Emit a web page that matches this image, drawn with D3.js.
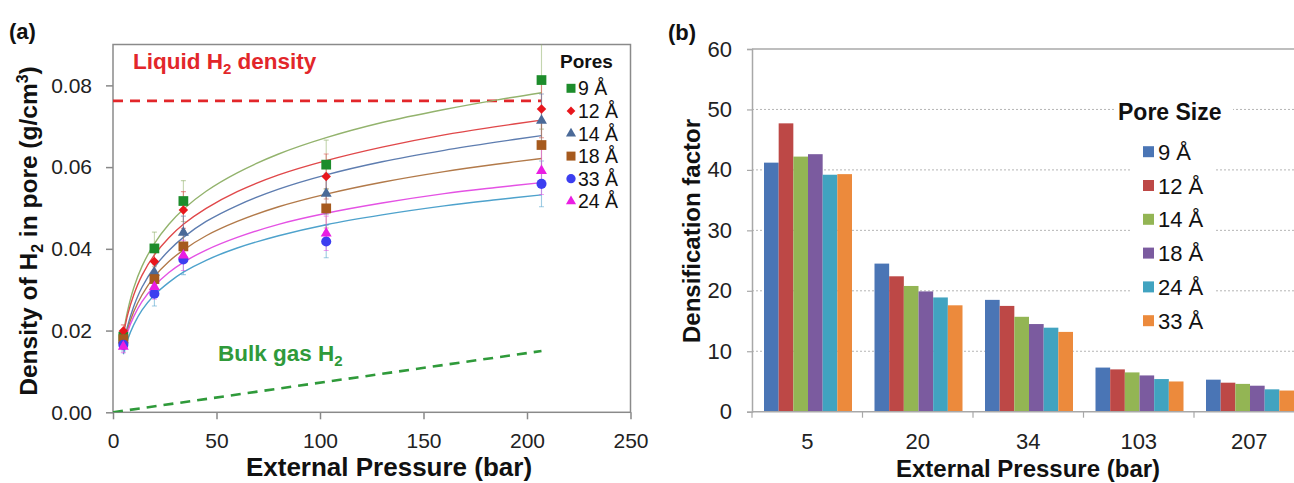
<!DOCTYPE html>
<html><head><meta charset="utf-8">
<script src="https://cdn.jsdelivr.net/npm/d3@7"></script>
<style>
body{margin:0;background:#fff}
svg{display:block}
text{font-family:"Liberation Sans",Arial,Helvetica,sans-serif}
</style>
</head><body>
<svg id="c" width="1294" height="483"></svg>
<script>
// ---------- Panel (a) data ----------
const pressures = [5, 20, 34, 103, 207];
const poreNamesA = ["9 Å", "12 Å", "14 Å", "18 Å", "33 Å", "24 Å"];
const dens9  = [0.0185, 0.0401, 0.0517, 0.0606, 0.0813];
const dens12 = [0.0199, 0.0369, 0.0495, 0.0577, 0.0742];
const dens14 = [0.0177, 0.0342, 0.0440, 0.0535, 0.0714];
const dens18 = [0.0179, 0.0326, 0.0406, 0.0499, 0.0654];
const dens33 = [0.0165, 0.0290, 0.0374, 0.0418, 0.0559];
const dens24 = [0.0161, 0.0307, 0.0384, 0.0438, 0.0591];
const err9  = [0.0015, 0.0040, 0.0050, 0.0060, 0.0120];
const err12 = [0.0015, 0.0035, 0.0045, 0.0055, 0.0070];
const err14 = [0.0015, 0.0032, 0.0040, 0.0050, 0.0065];
const err18 = [0.0015, 0.0030, 0.0038, 0.0048, 0.0060];
const err33 = [0.0015, 0.0030, 0.0037, 0.0040, 0.0056];
const err24 = [0.0015, 0.0030, 0.0037, 0.0042, 0.0058];
// fitted trend curves
const fitX   = [5, 7, 10, 14, 20, 27, 34, 45, 60, 80, 103, 130, 160, 185, 207];
const fit9   = [0.0194,0.0247,0.0304,0.0357,0.0413,0.0460,0.0497,0.0541,0.0586,0.0632,0.0672,0.0709,0.0741,0.0764,0.0782];
const fit12  = [0.0189,0.0237,0.0287,0.0335,0.0385,0.0427,0.0460,0.0499,0.0540,0.0581,0.0616,0.0649,0.0679,0.0699,0.0715];
const fit14  = [0.0164,0.0210,0.0259,0.0306,0.0355,0.0396,0.0428,0.0467,0.0506,0.0546,0.0581,0.0613,0.0641,0.0661,0.0677];
const fit18  = [0.0160,0.0202,0.0246,0.0287,0.0332,0.0369,0.0397,0.0432,0.0467,0.0503,0.0534,0.0563,0.0589,0.0607,0.0621];
const fit33  = [0.0142,0.0177,0.0214,0.0250,0.0287,0.0318,0.0343,0.0372,0.0402,0.0432,0.0459,0.0483,0.0505,0.0520,0.0532];
const fit24  = [0.0159,0.0196,0.0234,0.0271,0.0309,0.0342,0.0367,0.0397,0.0428,0.0460,0.0487,0.0512,0.0535,0.0550,0.0562];
const liquidDensity = 0.0762;
const bulkGasX = [0, 207];
const bulkGasY = [0, 0.0150];
const xTicksA = [0, 50, 100, 150, 200, 250];
const yTicksA = [0, 0.02, 0.04, 0.06, 0.08];

// ---------- Panel (b) data ----------
const barCategories = ["5", "20", "34", "103", "207"];
const poreNamesB = ["9 Å", "12 Å", "14 Å", "18 Å", "24 Å", "33 Å"];
const fac9  = [41.2, 24.5, 18.5, 7.3, 5.3];
const fac12 = [47.7, 22.4, 17.5, 7.0, 4.8];
const fac14 = [42.2, 20.8, 15.7, 6.5, 4.6];
const fac18 = [42.6, 19.9, 14.5, 6.0, 4.3];
const fac24 = [39.2, 18.9, 13.9, 5.4, 3.7];
const fac33 = [39.3, 17.6, 13.2, 5.0, 3.5];
const yTicksB = [0, 10, 20, 30, 40, 50, 60];

// ---------- styles ----------
const seriesA = [
  {name: poreNamesA[0], v: dens9,  e: err9,  fit: fit9,  mk: "#1d8c2b", line: "#93b36d", shape: "square"},
  {name: poreNamesA[1], v: dens12, e: err12, fit: fit12, mk: "#e8161c", line: "#e0484a", shape: "diamond"},
  {name: poreNamesA[2], v: dens14, e: err14, fit: fit14, mk: "#4b6a98", line: "#5e7db0", shape: "triangle"},
  {name: poreNamesA[3], v: dens18, e: err18, fit: fit18, mk: "#a65a1e", line: "#b27a4a", shape: "square"},
  {name: poreNamesA[4], v: dens33, e: err33, fit: fit33, mk: "#3c3ef0", line: "#4ea2cc", shape: "circle"},
  {name: poreNamesA[5], v: dens24, e: err24, fit: fit24, mk: "#ea1ee2", line: "#e452e4", shape: "triangle"}
];
const seriesB = [
  {name: poreNamesB[0], v: fac9,  c: "#4a75b5"},
  {name: poreNamesB[1], v: fac12, c: "#bd4846"},
  {name: poreNamesB[2], v: fac14, c: "#93b554"},
  {name: poreNamesB[3], v: fac18, c: "#7b5b9f"},
  {name: poreNamesB[4], v: fac24, c: "#41a3c0"},
  {name: poreNamesB[5], v: fac33, c: "#ec8a3c"}
];

const svg = d3.select("#c");
svg.append("rect").attr("width", 1294).attr("height", 483).attr("fill", "#fff");

function symbolPath(shape, size) {
  if (shape === "square") return d3.symbol(d3.symbolSquare, size)();
  if (shape === "diamond") return d3.symbol(d3.symbolSquare, size)();
  if (shape === "triangle") return d3.symbol(d3.symbolTriangle, size)();
  return d3.symbol(d3.symbolCircle, size)();
}
const symSize = {square: 95, diamond: 45, triangle: 52, circle: 80};

// ================= Panel (a) =================
const xA = d3.scaleLinear().domain([0, 250]).range([113, 630.5]);
const yA = d3.scaleLinear().domain([0, 0.09]).range([412.3, 44.5]);
const gA = svg.append("g");

gA.append("defs").append("clipPath").attr("id", "clipA")
  .append("rect").attr("x", xA(0)).attr("y", yA(0.09))
  .attr("width", xA(250) - xA(0)).attr("height", yA(0) - yA(0.09));

// axes
const axL = gA.append("g").attr("transform", `translate(${xA(0)},0)`)
  .call(d3.axisLeft(yA).tickValues(yTicksA).tickFormat(d3.format(".2f")).tickSize(7).tickPadding(14));
const axB = gA.append("g").attr("transform", `translate(0,${yA(0)})`)
  .call(d3.axisBottom(xA).tickValues(xTicksA).tickFormat(d3.format("d")).tickSize(7).tickPadding(14));
[axL, axB].forEach(a => {
  a.select(".domain").remove();
  a.selectAll(".tick line").attr("stroke", "#888").attr("stroke-width", 1.5);
  a.selectAll(".tick text").attr("fill", "#222").style("font-size", "21px");
});

// frame
gA.append("rect").attr("x", xA(0)).attr("y", yA(0.09))
  .attr("width", xA(250) - xA(0)).attr("height", yA(0) - yA(0.09))
  .attr("fill", "none").attr("stroke", "#8a8a8a").attr("stroke-width", 1.5);

const plotA = gA.append("g").attr("clip-path", "url(#clipA)");

// liquid & bulk lines
plotA.append("line").attr("x1", xA(0)).attr("x2", xA(207))
  .attr("y1", yA(liquidDensity)).attr("y2", yA(liquidDensity))
  .attr("stroke", "#e2262a").attr("stroke-width", 2.6).attr("stroke-dasharray", "10,7");
plotA.append("path").datum(bulkGasX.map((x, i) => [x, bulkGasY[i]]))
  .attr("d", d3.line().x(d => xA(d[0])).y(d => yA(d[1])))
  .attr("fill", "none").attr("stroke", "#2f9a3a").attr("stroke-width", 2.6).attr("stroke-dasharray", "10,7");

// fit curves
const curveLine = d3.line().x(d => xA(d[0])).y(d => yA(d[1])).curve(d3.curveCatmullRom);
seriesA.forEach(s => {
  plotA.append("path").datum(fitX.map((x, i) => [x, s.fit[i]]))
    .attr("d", curveLine).attr("fill", "none").attr("stroke", s.line).attr("stroke-width", 1.4);
});

// error bars
seriesA.forEach(s => {
  const g = plotA.append("g").attr("stroke", s.line).attr("stroke-opacity", 0.55).attr("stroke-width", 1.1);
  pressures.forEach((p, i) => {
    const x = xA(p), y1 = yA(s.v[i] - s.e[i]), y2 = yA(s.v[i] + s.e[i]);
    g.append("line").attr("x1", x).attr("x2", x).attr("y1", y1).attr("y2", y2);
    g.append("line").attr("x1", x - 2.5).attr("x2", x + 2.5).attr("y1", y1).attr("y2", y1);
    g.append("line").attr("x1", x - 2.5).attr("x2", x + 2.5).attr("y1", y2).attr("y2", y2);
  });
});

// markers
seriesA.forEach(s => {
  gA.append("g").selectAll("path").data(pressures.map((p, i) => [p, s.v[i]])).join("path")
    .attr("d", symbolPath(s.shape, symSize[s.shape]))
    .attr("transform", d => `translate(${xA(d[0])},${yA(d[1])})` + (s.shape === "diamond" ? " rotate(45)" : ""))
    .attr("fill", s.mk);
});

// annotations
const liq = gA.append("text").attr("x", 133).attr("y", 69).attr("fill", "#e2262a")
  .style("font-size", "22.5px").style("font-weight", "bold");
liq.append("tspan").text("Liquid H");
liq.append("tspan").attr("dy", 5).style("font-size", "15px").text("2");
liq.append("tspan").attr("dy", -5).text(" density");
const bulk = gA.append("text").attr("x", 218).attr("y", 361).attr("fill", "#2f9a3a")
  .style("font-size", "22.5px").style("font-weight", "bold");
bulk.append("tspan").text("Bulk gas H");
bulk.append("tspan").attr("dy", 5).style("font-size", "15px").text("2");

// legend (a)
gA.append("text").attr("x", 560).attr("y", 68).attr("fill", "#111")
  .style("font-size", "19px").style("font-weight", "bold").text("Pores");
seriesA.forEach((s, i) => {
  const cy = 88.3 + i * 22.6;
  gA.append("path").attr("d", symbolPath(s.shape, symSize[s.shape] * 0.85))
    .attr("transform", `translate(571,${cy})` + (s.shape === "diamond" ? " rotate(45)" : ""))
    .attr("fill", s.mk);
  gA.append("text").attr("x", 578).attr("y", cy + 7).attr("fill", "#111")
    .style("font-size", "19.5px").text(s.name);
});

// axis titles (a)
const yl = gA.append("text").attr("transform", "translate(37,231) rotate(-90)")
  .attr("text-anchor", "middle").attr("fill", "#111")
  .style("font-size", "24.5px").style("font-weight", "bold");
yl.append("tspan").text("Density of H");
yl.append("tspan").attr("dy", 6).style("font-size", "16px").text("2");
yl.append("tspan").attr("dy", -6).text(" in pore (g/cm");
yl.append("tspan").attr("dy", -9).style("font-size", "16px").text("3");
yl.append("tspan").attr("dy", 9).text(")");
gA.append("text").attr("x", 389).attr("y", 476).attr("text-anchor", "middle").attr("fill", "#111")
  .style("font-size", "26px").style("font-weight", "bold").text("External Pressure (bar)");
gA.append("text").attr("x", 9).attr("y", 39).attr("fill", "#111")
  .style("font-size", "22px").style("font-weight", "bold").text("(a)");

// ================= Panel (b) =================
const xB = d3.scaleBand().domain(barCategories).range([752, 1304.5]).padding(0);
const xB1 = d3.scaleBand().domain(poreNamesB).range([12, 100]).padding(0);
const yB = d3.scaleLinear().domain([0, 60]).range([411.7, 49]);
const gB = svg.append("g");

// gridlines
gB.append("g").selectAll("line").data(yTicksB.filter(t => t > 0 && t < 60)).join("line")
  .attr("x1", xB.range()[0]).attr("x2", 1294)
  .attr("y1", d => yB(d)).attr("y2", d => yB(d))
  .attr("stroke", "#b5b5b5").attr("stroke-width", 1).attr("stroke-dasharray", "2,2");
// top border
gB.append("line").attr("x1", xB.range()[0]).attr("x2", 1294).attr("y1", yB(60)).attr("y2", yB(60))
  .attr("stroke", "#a8a8a8").attr("stroke-width", 1.5);

// legend white boxes (cover gridlines)
gB.append("rect").attr("x", 1114).attr("y", 98).attr("width", 119).attr("height", 26).attr("fill", "#fff");
gB.append("rect").attr("x", 1131).attr("y", 134).attr("width", 83).attr("height", 204).attr("fill", "#fff");

// bars
seriesB.forEach(s => {
  gB.append("g").selectAll("rect").data(barCategories.map((c, i) => [c, s.v[i]])).join("rect")
    .attr("x", d => xB(d[0]) + xB1(s.name))
    .attr("width", xB1.bandwidth())
    .attr("y", d => yB(d[1]))
    .attr("height", d => yB(0) - yB(d[1]))
    .attr("fill", s.c);
});

// y axis (b)
const axLB = gB.append("g").attr("transform", `translate(${xB.range()[0]},0)`)
  .call(d3.axisLeft(yB).tickValues(yTicksB).tickFormat(d3.format("d")).tickSize(5).tickPadding(15));
axLB.select(".domain").attr("stroke", "#a8a8a8").attr("stroke-width", 1.5);
axLB.selectAll(".tick line").attr("stroke", "#a8a8a8").attr("stroke-width", 1.2);
axLB.selectAll(".tick text").attr("fill", "#222").style("font-size", "22px");

// x axis (b)
const axBB = gB.append("g").attr("transform", `translate(0,${yB(0)})`)
  .call(d3.axisBottom(xB).tickSize(0).tickPadding(22));
axBB.select(".domain").remove();
axBB.selectAll(".tick text").attr("fill", "#222").style("font-size", "22px");
gB.append("line").attr("x1", xB.range()[0]).attr("x2", 1294).attr("y1", yB(0)).attr("y2", yB(0))
  .attr("stroke", "#a8a8a8").attr("stroke-width", 1.5);
gB.append("g").selectAll("line").data(barCategories).join("line")
  .attr("x1", d => xB(d)).attr("x2", d => xB(d))
  .attr("y1", yB(0)).attr("y2", yB(0) + 6)
  .attr("stroke", "#a8a8a8").attr("stroke-width", 1.2);

// legend (b)
gB.append("text").attr("x", 1118).attr("y", 120).attr("fill", "#111")
  .style("font-size", "23px").style("font-weight", "bold").text("Pore Size");
seriesB.forEach((s, i) => {
  const cy = 151.7 + i * 33.8;
  gB.append("rect").attr("x", 1143).attr("y", cy - 5.5).attr("width", 11).attr("height", 11).attr("fill", s.c);
  gB.append("text").attr("x", 1158).attr("y", cy + 8).attr("fill", "#111")
    .style("font-size", "22px").text(s.name);
});

// titles (b)
gB.append("text").attr("transform", "translate(700,231) rotate(-90)")
  .attr("text-anchor", "middle").attr("fill", "#111")
  .style("font-size", "24px").style("font-weight", "bold").text("Densification factor");
gB.append("text").attr("x", 1028).attr("y", 477).attr("text-anchor", "middle").attr("fill", "#111")
  .style("font-size", "24px").style("font-weight", "bold").text("External Pressure (bar)");
gB.append("text").attr("x", 668).attr("y", 40).attr("fill", "#111")
  .style("font-size", "22px").style("font-weight", "bold").text("(b)");
</script>
</body></html>
